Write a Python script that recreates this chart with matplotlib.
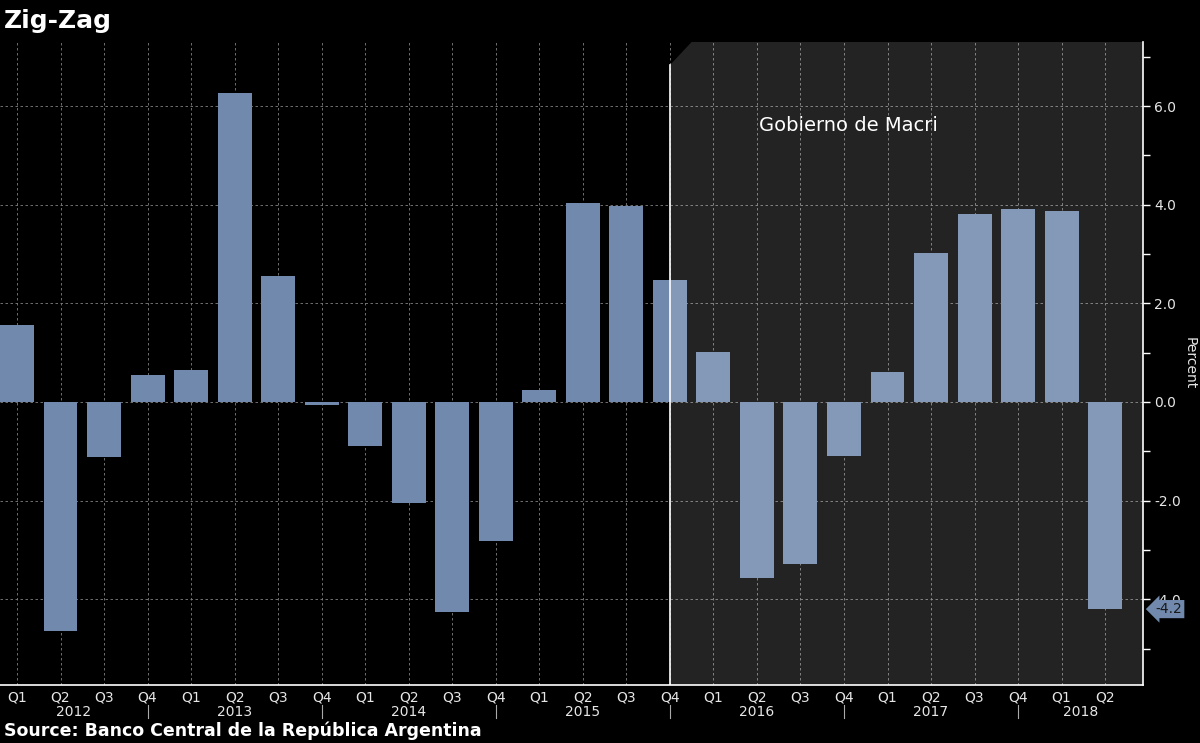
import matplotlib
matplotlib.use('Agg')
import matplotlib.pyplot as plt
import matplotlib.transforms as mtransforms
from matplotlib.patches import Polygon
import numpy as np

# Datos: variacion trimestral (%)
quarters = ['Q1', 'Q2', 'Q3', 'Q4'] * 6 + ['Q1', 'Q2']
years = ['2012', '2013', '2014', '2015', '2016', '2017', '2018']
values = [1.56, -4.65, -1.12, 0.55, 0.65, 6.27, 2.56, -0.06,
          -0.89, -2.05, -4.26, -2.82, 0.24, 4.04, 3.98, 2.47,
          1.01, -3.57, -3.29, -1.10, 0.61, 3.02, 3.81, 3.91,
          3.87, -4.20]
macri_start = 15  # Q4 2015
region_label = 'Gobierno de Macri'

bg = '#000000'
bar_color = '#7089AD'
txt = '#E6E6E6'

fig = plt.figure(figsize=(12, 7.43), dpi=100, facecolor=bg)
ax = fig.add_axes([0.0, 0.078, 0.9525, 0.8655], facecolor=bg)

x = np.arange(len(values))
xmin, xmax = -0.39, len(values) - 1 + 0.87
ymin, ymax = -5.74, 7.3

ax.bar(x, values, width=0.78, color=bar_color, zorder=2)

# Zona sombreada (gobierno de Macri) con esquina recortada
shade = Polygon([(macri_start, ymin), (macri_start, ymax - 0.47),
                 (macri_start + 0.5, ymax), (xmax, ymax), (xmax, ymin)],
                closed=True, facecolor='white', alpha=0.14, edgecolor='none', zorder=3)
ax.add_patch(shade)
ax.plot([macri_start, macri_start], [ymin, ymax - 0.47], color='white', lw=1.2, zorder=4)
ax.text(macri_start + 4.1, 5.6, region_label, color='white', fontsize=14,
        ha='center', va='center', zorder=5)

ax.set_xlim(xmin, xmax)
ax.set_ylim(ymin, ymax)

# Cuadricula
ax.set_xticks(x)
ax.set_xticklabels(quarters)
ax.set_yticks([-4, -2, 0, 2, 4, 6])
ax.set_yticks([-5, -3, -1, 1, 3, 5, 7], minor=True)
ax.set_yticklabels(['%.1f' % v for v in [-4, -2, 0, 2, 4, 6]])
ax.grid(True, which='major', color='#808080', linestyle=(0, (3, 3)), linewidth=0.6)
for gl in ax.get_xgridlines() + ax.get_ygridlines():
    gl.set_zorder(3.5)

ax.yaxis.tick_right()
ax.yaxis.set_label_position('right')
ax.tick_params(axis='y', which='both', colors='white', labelcolor=txt,
               labelsize=10, length=5, width=1, direction='out', pad=3)
ax.tick_params(axis='x', colors='white', labelcolor=txt, labelsize=10, length=0, pad=4)
ax.set_ylabel('Percent', color=txt, fontsize=10, rotation=270, va='center')
ax.yaxis.set_label_coords(1.041, 0.5)

for s in ['top', 'left']:
    ax.spines[s].set_visible(False)
for s in ['bottom', 'right']:
    ax.spines[s].set_color('white')
    ax.spines[s].set_linewidth(1.2)

# Etiquetas de anio y separadores
trans = mtransforms.blended_transform_factory(ax.transData, ax.transAxes)
seps = [i for i, q in enumerate(quarters) if q == 'Q4']
edges = [xmin] + seps + [xmax]
for i, yr in enumerate(years):
    ax.text((edges[i] + edges[i + 1]) / 2, -0.042, yr, transform=trans,
            color=txt, fontsize=10, ha='center', va='center')
for s in seps:
    ax.plot([s, s], [-0.031, -0.052], transform=trans, color='#AAAAAA',
            lw=0.8, clip_on=False)

# Etiqueta del ultimo valor
ytrans = mtransforms.blended_transform_factory(ax.transAxes, ax.transData)
ax.annotate('%.1f' % values[-1], xy=(1.0, values[-1]), xycoords=ytrans,
            xytext=(9, 0), textcoords='offset points', ha='left', va='center',
            fontsize=10, color='#1A1A1A', annotation_clip=False, zorder=10,
            bbox=dict(boxstyle='larrow,pad=0.15', fc=bar_color, ec='none'))

fig.text(0.003, 0.972, 'Zig-Zag', color='white', fontsize=18, fontweight='bold',
         ha='left', va='center')
fig.text(0.003, 0.016, 'Source: Banco Central de la República Argentina', color='white',
         fontsize=12.5, fontweight='bold', ha='left', va='center')

plt.savefig('out.png', dpi=100, facecolor=bg)
